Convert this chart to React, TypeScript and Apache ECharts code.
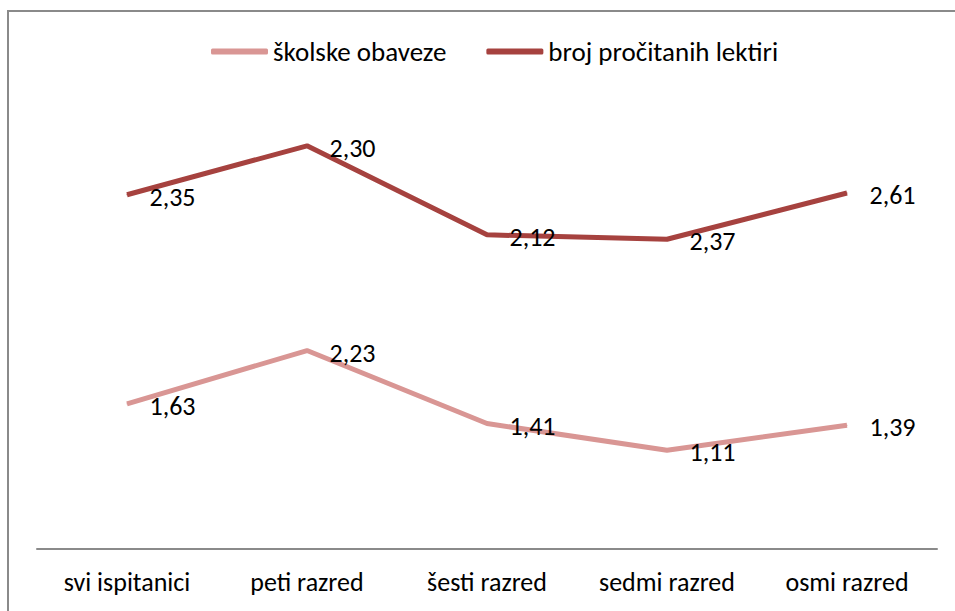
import React, { useEffect, useRef } from "react";
import * as echarts from "echarts";

const categories = ["svi ispitanici", "peti razred", "šesti razred", "sedmi razred", "osmi razred"];
const skolskeObaveze = [1.63, 2.23, 1.41, 1.11, 1.39];
const brojLektira = [2.35, 2.3, 2.12, 2.37, 2.61];
const seriesNames = ["školske obaveze", "broj pročitanih lektiri"];

const FONT = "Carlito, Calibri, Lato, sans-serif";
const FS = 26;

export default function App() {
  const ref = useRef<HTMLDivElement>(null);
  useEffect(() => {
    if (!ref.current) return;
    const chart = echarts.init(ref.current, null, { renderer: "svg" });
    const fmt = (p: any) => Number(p.value).toFixed(2).replace(".", ",");
    const label = {
      show: true,
      position: "right",
      distance: 22,
      offset: [0, 2],
      color: "#000",
      fontSize: FS,
      fontFamily: FONT,
      formatter: fmt,
    };
    chart.setOption({
      animation: false,
      backgroundColor: "#fff",
      textStyle: { fontFamily: FONT },
      graphic: [
        {
          type: "rect",
          shape: { x: 8, y: 11, width: 1000, height: 700 },
          style: { fill: "none", stroke: "#8a8a8a", lineWidth: 2 },
          silent: true,
          z: -1,
        },
      ],
      legend: {
        left: 206,
        top: 33,
        itemWidth: 57,
        itemHeight: 6,
        itemGap: 40,
        icon: "roundRect",
        textStyle: { fontSize: 27, fontFamily: FONT, color: "#000" },
        data: seriesNames,
      },
      grid: { left: 37, right: 18, top: 104, bottom: 62, containLabel: false },
      xAxis: {
        type: "category",
        data: categories,
        boundaryGap: true,
        axisLine: { show: true, lineStyle: { color: "#8a8a8a", width: 2 } },
        axisTick: { show: false },
        axisLabel: { color: "#000", fontSize: FS, fontFamily: FONT, margin: 20 },
      },
      yAxis: {
        type: "value",
        min: 0,
        max: 5,
        interval: 1,
        show: false,
        splitLine: { show: false },
      },
      series: [
        {
          name: seriesNames[0],
          type: "line",
          stack: "total",
          data: skolskeObaveze,
          symbol: "circle",
          symbolSize: 1,
          showSymbol: true,
          color: "#D99694",
          lineStyle: { width: 5, color: "#D99694" },
          itemStyle: { color: "#D99694" },
          label,
        },
        {
          name: seriesNames[1],
          type: "line",
          stack: "total",
          data: brojLektira,
          symbol: "circle",
          symbolSize: 1,
          showSymbol: true,
          color: "#A6423F",
          lineStyle: { width: 5, color: "#A6423F" },
          itemStyle: { color: "#A6423F" },
          label,
        },
      ],
    });
    return () => chart.dispose();
  }, []);
  return <div ref={ref} style={{ width: 955, height: 611, position: "absolute", left: 0, top: 0 }} />;
}
